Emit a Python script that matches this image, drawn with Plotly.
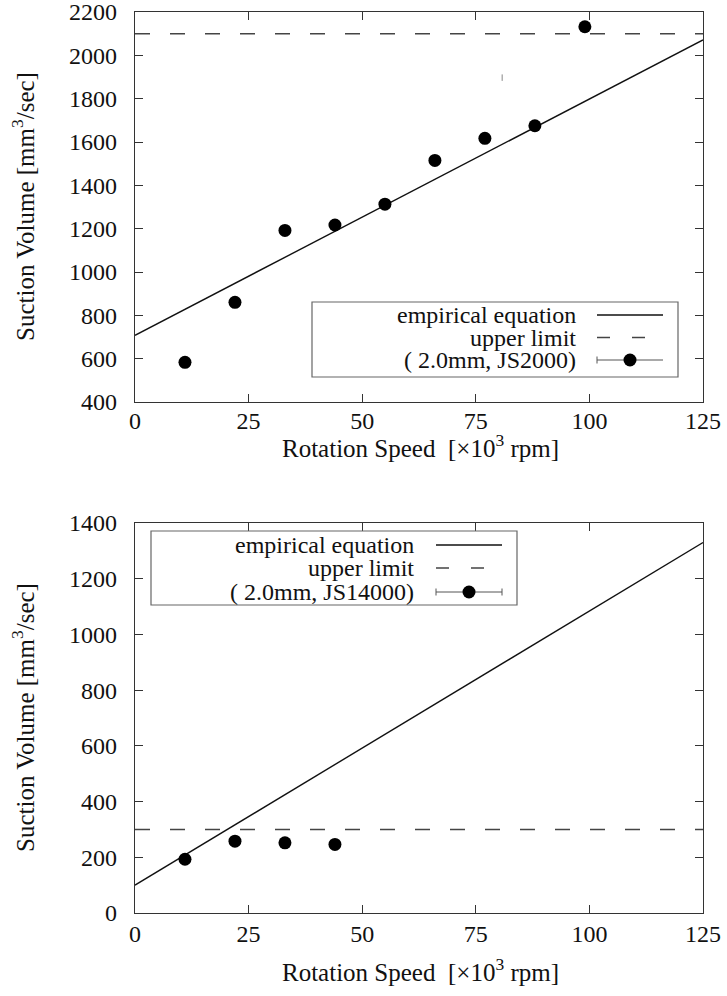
import plotly.graph_objects as go

W, H = 727, 996

# ---------------- data ----------------
speed_top = [11, 22, 33, 44, 55, 66, 77, 88, 99]
volume_top = [583, 860, 1192, 1217, 1313, 1515, 1617, 1675, 2132]
empirical_top_x = [0, 125]
empirical_top_y = [708, 2071]
upper_top = 2100
stray_x = [80.8, 80.8]
stray_y = [1882, 1912]

speed_bot = [11, 22, 33, 44]
volume_bot = [193, 258, 252, 246]
empirical_bot_x = [0, 125]
empirical_bot_y = [100, 1330]
upper_bot = 300

x_ticks = [0, 25, 50, 75, 100, 125]
y_ticks_top = list(range(400, 2201, 200))
y_ticks_bot = list(range(0, 1401, 200))

legend_labels = ["empirical equation", "upper limit"]
series_top = "( 2.0mm, JS2000)"
series_bot = "( 2.0mm, JS14000)"

FONT = "Liberation Serif"
INK = "#111111"
AX = "#333333"


def px(x):
    return x / W


def py(y):
    return 1 - y / H


fig = go.Figure()

# top chart traces
fig.add_trace(go.Scatter(x=empirical_top_x, y=empirical_top_y, mode="lines",
                         line=dict(color=INK, width=1.4), xaxis="x", yaxis="y", showlegend=False))
fig.add_trace(go.Scatter(x=[0, 125], y=[upper_top, upper_top], mode="lines",
                         line=dict(color="#444444", width=1.5, dash="15px,20px"),
                         xaxis="x", yaxis="y", showlegend=False))
fig.add_trace(go.Scatter(x=speed_top, y=volume_top, mode="markers",
                         marker=dict(color="black", size=13), xaxis="x", yaxis="y", showlegend=False))
fig.add_trace(go.Scatter(x=stray_x, y=stray_y, mode="lines",
                         line=dict(color="#888888", width=1), xaxis="x", yaxis="y", showlegend=False))

# bottom chart traces
fig.add_trace(go.Scatter(x=empirical_bot_x, y=empirical_bot_y, mode="lines",
                         line=dict(color=INK, width=1.4), xaxis="x2", yaxis="y2", showlegend=False))
fig.add_trace(go.Scatter(x=[0, 125], y=[upper_bot, upper_bot], mode="lines",
                         line=dict(color="#444444", width=1.5, dash="15px,20px"),
                         xaxis="x2", yaxis="y2", showlegend=False))
fig.add_trace(go.Scatter(x=speed_bot, y=volume_bot, mode="markers",
                         marker=dict(color="black", size=13), xaxis="x2", yaxis="y2", showlegend=False))

axis_common = dict(
    showline=True, linecolor=AX, linewidth=1.3, mirror="allticks",
    ticks="inside", ticklen=8, tickwidth=1.2, tickcolor=AX,
    showgrid=False, zeroline=False, automargin=False,
    ticklabeloverflow="allow",
    tickfont=dict(family=FONT, size=24, color=INK),
)

xdom = [px(135), px(703)]
fig.update_layout(
    width=W, height=H,
    autosize=False,
    font=dict(family=FONT, color=INK),
    margin=dict(l=0, r=0, t=0, b=0, autoexpand=False),
    paper_bgcolor="white", plot_bgcolor="white",
    xaxis=dict(domain=xdom, range=[0, 125], tickvals=x_ticks, anchor="y",
               ticklabelstandoff=-3, **axis_common),
    yaxis=dict(domain=[py(402), py(12)], range=[400, 2200], tickvals=y_ticks_top, anchor="x",
               ticklabelstandoff=12, **axis_common),
    xaxis2=dict(domain=xdom, range=[0, 125], tickvals=x_ticks, anchor="y2",
                ticklabelstandoff=-1, **axis_common),
    yaxis2=dict(domain=[py(913), py(523)], range=[0, 1400], tickvals=y_ticks_bot, anchor="x2",
                ticklabelstandoff=12, **axis_common),
)

annotations = []
shapes = []

# axis titles
ytitle = "Suction Volume [mm<sup>3</sup>/sec]"
xtitle = "Rotation Speed  [×10<sup>3</sup> rpm]"
for cy in [(12 + 402) / 2, (523 + 913) / 2]:
    annotations.append(dict(x=px(23), y=py(cy), xref="paper", yref="paper", text=ytitle,
                            textangle=-90, showarrow=False, xanchor="center", yanchor="middle",
                            font=dict(family=FONT, size=25, color=INK)))
for cy in [446, 970]:
    annotations.append(dict(x=px(420), y=py(cy), xref="paper", yref="paper", text=xtitle,
                            showarrow=False, xanchor="center", yanchor="middle",
                            font=dict(family=FONT, size=25, color=INK)))


def add_legend(box, text_right, sx0, sx1, rows, series_label, caps):
    x0, y0, x1, y1 = box
    shapes.append(dict(type="rect", xref="paper", yref="paper",
                       x0=px(x0), x1=px(x1), y0=py(y1), y1=py(y0),
                       line=dict(color="#666666", width=1.2), fillcolor="white", layer="above"))
    labels = legend_labels + [series_label]
    for lab, ry in zip(labels, rows):
        annotations.append(dict(x=px(text_right), y=py(ry), xref="paper", yref="paper", text=lab,
                                showarrow=False, xanchor="right", yanchor="middle",
                                font=dict(family=FONT, size=24, color=INK)))
    shapes.append(dict(type="line", xref="paper", yref="paper", x0=px(sx0), x1=px(sx1),
                       y0=py(rows[0]), y1=py(rows[0]), line=dict(color=INK, width=1.4), layer="above"))
    shapes.append(dict(type="line", xref="paper", yref="paper", x0=px(sx0), x1=px(sx1),
                       y0=py(rows[1]), y1=py(rows[1]),
                       line=dict(color="#444444", width=1.5, dash="13px,22px"), layer="above"))
    shapes.append(dict(type="line", xref="paper", yref="paper", x0=px(sx0), x1=px(sx1),
                       y0=py(rows[2]), y1=py(rows[2]), line=dict(color="#555555", width=1), layer="above"))
    for cx in caps:
        shapes.append(dict(type="line", xref="paper", yref="paper", x0=px(cx), x1=px(cx),
                           y0=py(rows[2] - 3.5), y1=py(rows[2] + 3.5),
                           line=dict(color="#555555", width=1), layer="above"))
    mx = (sx0 + sx1) / 2
    shapes.append(dict(type="circle", xref="paper", yref="paper",
                       x0=px(mx - 6.5), x1=px(mx + 6.5), y0=py(rows[2] + 6.5), y1=py(rows[2] - 6.5),
                       fillcolor="black", line=dict(color="black", width=0), layer="above"))


add_legend((312, 302, 678, 377), 578, 597, 663, [315, 337.5, 360], series_top, [597])
add_legend((151, 531, 517, 605), 416, 436, 502, [545, 568, 592], series_bot, [436, 502])

fig.update_layout(annotations=annotations, shapes=shapes)

fig.write_html("out.html")
